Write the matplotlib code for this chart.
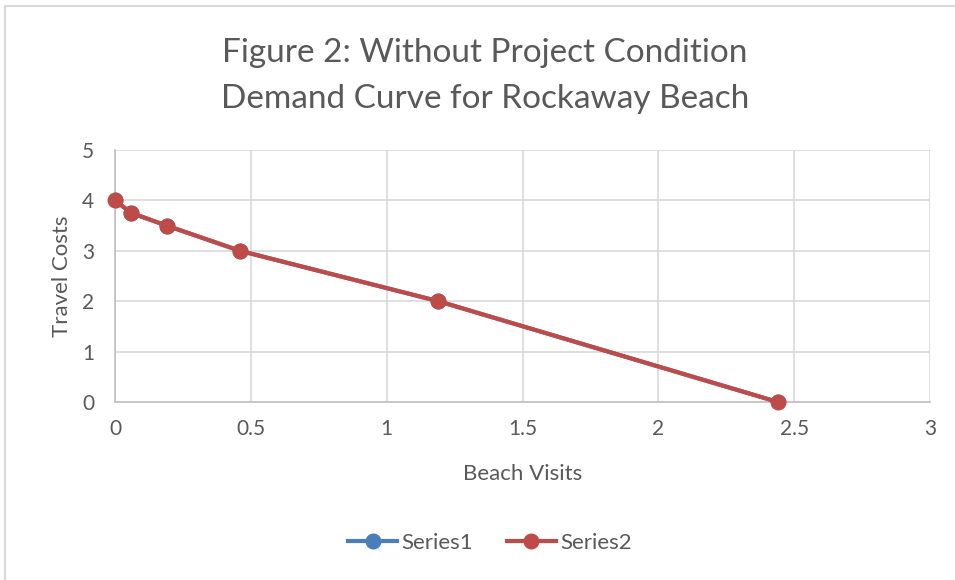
import matplotlib
matplotlib.use("Agg")
import matplotlib.pyplot as plt
from matplotlib.lines import Line2D

title = "Figure 2: Without Project Condition\nDemand Curve for Rockaway Beach"
x_label = "Beach Visits"
y_label = "Travel Costs"
visits = [0.0, 0.06, 0.19, 0.46, 1.19, 2.44]
costs = [4.0, 3.75, 3.5, 3.0, 2.0, 0.0]
series_names = ["Series1", "Series2"]
x_ticks = [0, 0.5, 1, 1.5, 2, 2.5, 3]
x_tick_labels = ["0", "0.5", "1", "1.5", "2", "2.5", "3"]
y_ticks = [0, 1, 2, 3, 4, 5]

plt.rcParams['font.family'] = ['Lato', 'DejaVu Sans']
text_color = "#595959"

fig = plt.figure(figsize=(9.55, 5.8), dpi=100)
ax = fig.add_axes([115/955, (580-402)/580, (930-115)/955, (402-150)/580])

ax.plot(visits, costs, color="#4a7ebb", lw=3, marker="o", ms=10.5, zorder=3)
ax.plot(visits, costs, color="#be4b48", lw=3, marker="o", ms=10.5, zorder=4, clip_on=False)

ax.set_xlim(0, 3)
ax.set_ylim(0, 5)
ax.set_xticks(x_ticks)
ax.set_xticklabels(x_tick_labels)
ax.set_yticks(y_ticks)
ax.grid(True, color="#d9d9d9", lw=1.2)
ax.set_axisbelow(True)
for s in ["top", "right"]:
    ax.spines[s].set_visible(False)
ax.spines["left"].set_color("#bfbfbf")
ax.spines["bottom"].set_color("#bfbfbf")
ax.spines["left"].set_linewidth(1.2)
ax.spines["bottom"].set_linewidth(1.2)
ax.tick_params(axis="y", length=0, labelsize=15, labelcolor=text_color, pad=15)
ax.tick_params(axis="x", length=0, labelsize=15, labelcolor=text_color, pad=12)
ax.set_xlabel(x_label, fontsize=16, color=text_color, labelpad=18)
ax.set_ylabel(y_label, fontsize=16, color=text_color, labelpad=7)

fig.text(485/955, 1 - 76/580, title, ha="center", va="center", fontsize=24,
         color=text_color, linespacing=1.65)

handles = [Line2D([], [], color="#4a7ebb", lw=3, marker="o", ms=10.5),
           Line2D([], [], color="#be4b48", lw=3, marker="o", ms=10.5)]
fig.legend(handles, series_names, loc="center", bbox_to_anchor=(490/955, 1 - 543/580),
           ncol=2, frameon=False, fontsize=16, labelcolor=text_color,
           handlelength=2.2, columnspacing=1.5, handletextpad=0.2)

# chart border (top and left visible)
fig.add_artist(Line2D([5/955, 1.0], [1 - 6/580, 1 - 6/580], color="#d9d9d9", lw=1.5))
fig.add_artist(Line2D([5/955, 5/955], [0, 1 - 6/580], color="#d9d9d9", lw=1.5))

fig.savefig("out.png", dpi=100)
